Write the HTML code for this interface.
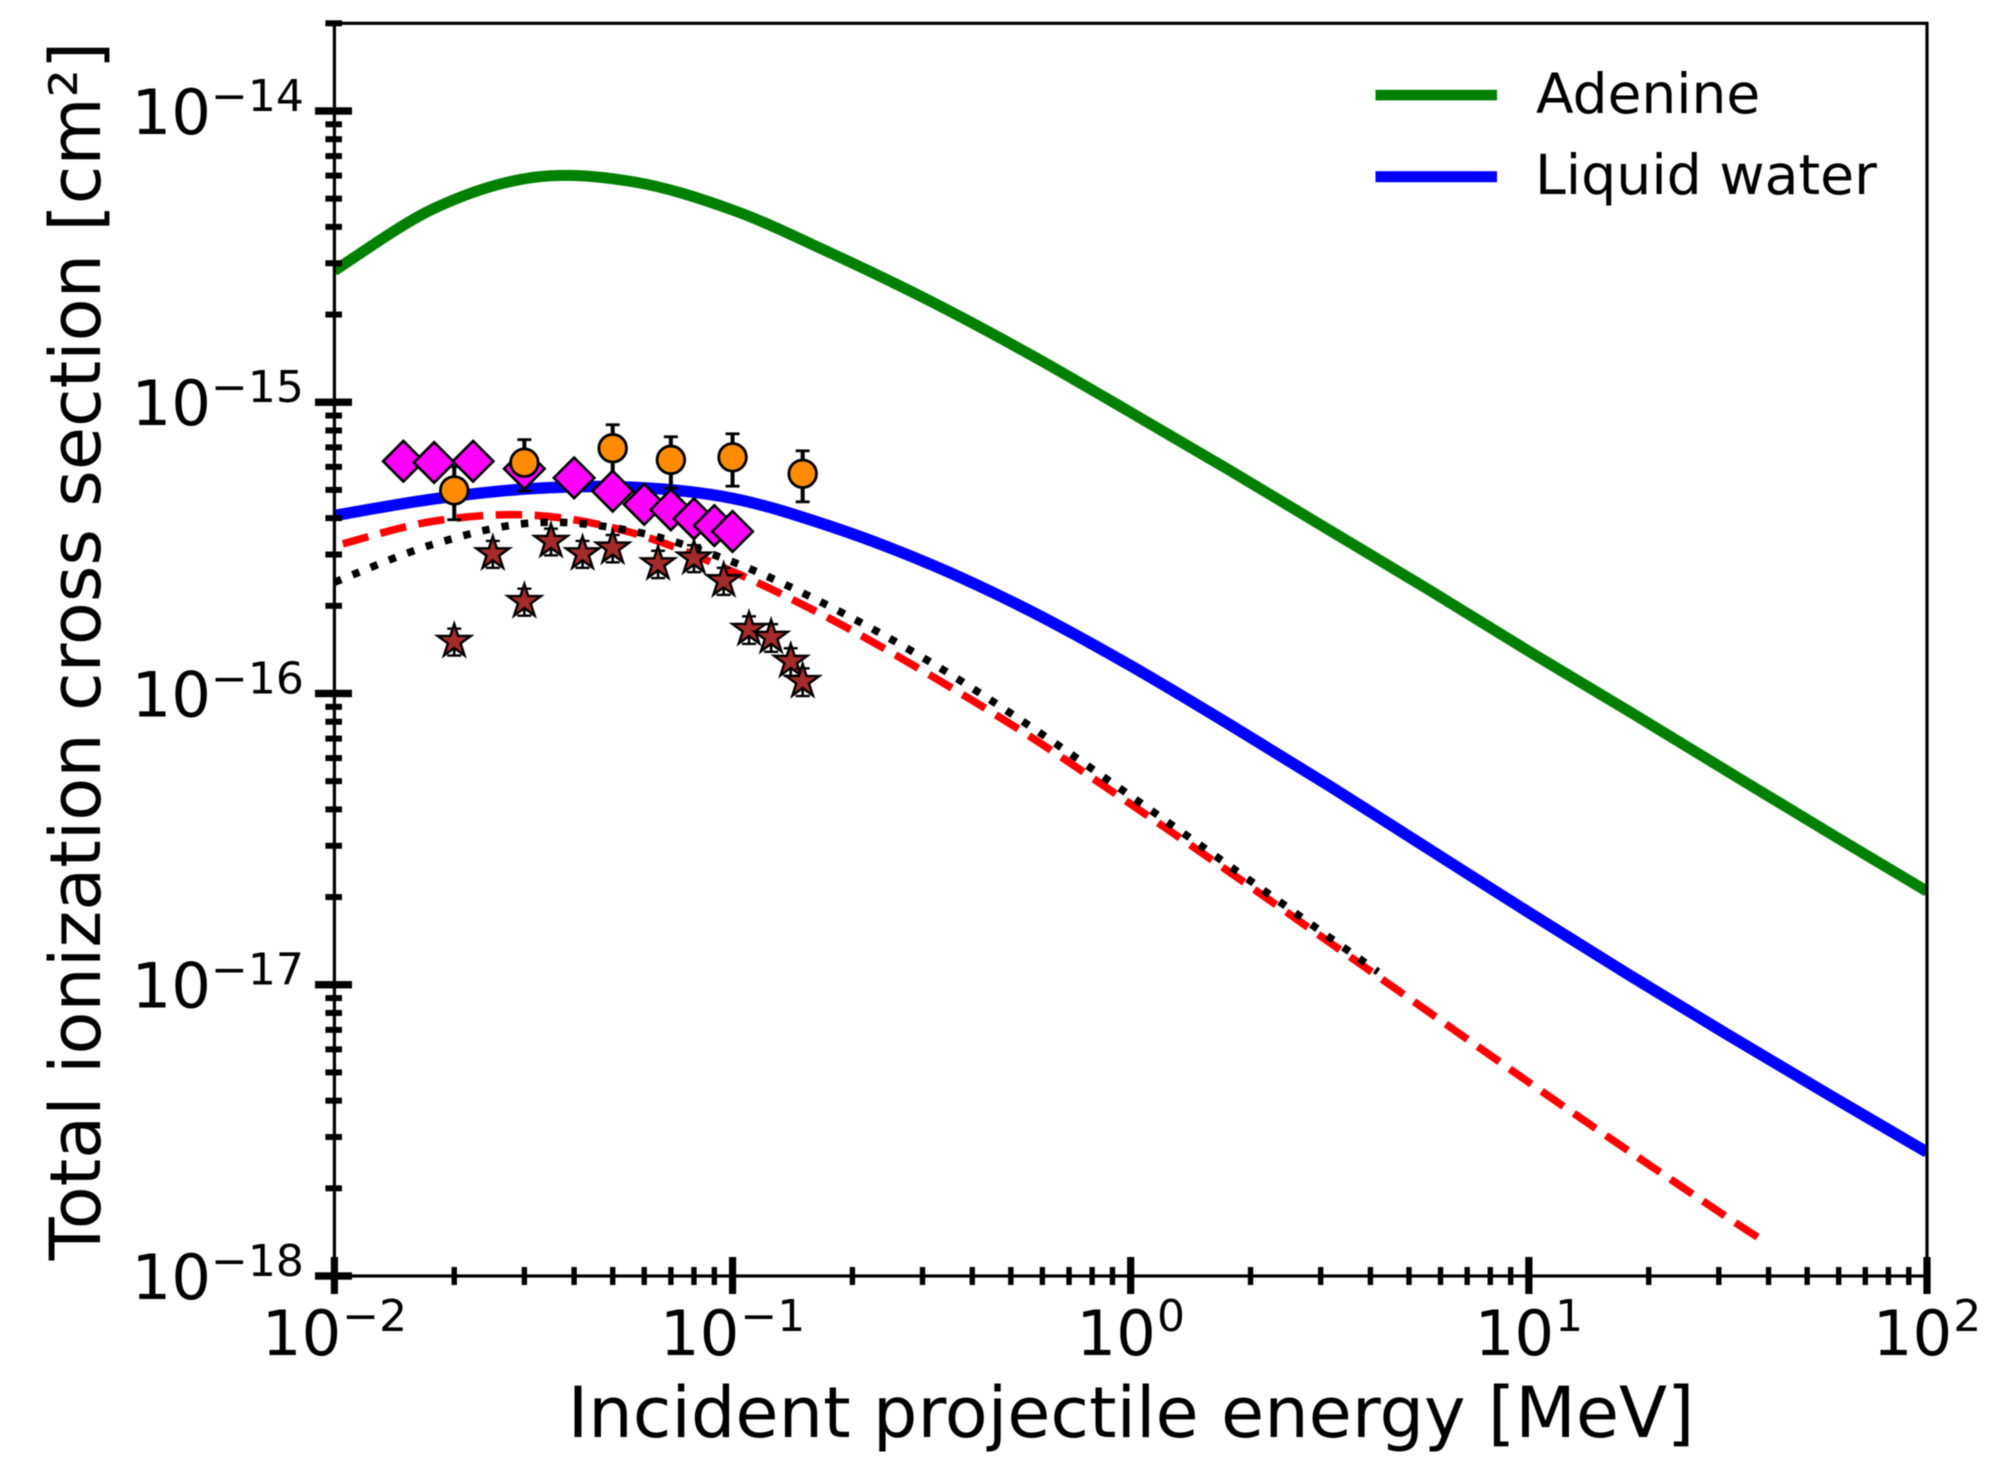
<!DOCTYPE html>
<html lang="en">
<head>
<meta charset="utf-8">
<title>Total ionization cross section</title>
<style>
html,body{margin:0;padding:0;background:#fff;width:2005px;height:1480px;overflow:hidden}
svg{display:block;filter:blur(0.4px)}
text{font-family:"DejaVu Sans","Liberation Sans",sans-serif;fill:#000}
</style>
</head>
<body>
<svg id="chart" xmlns="http://www.w3.org/2000/svg" width="2005" height="1480" viewBox="0 0 2005 1480">
  <defs><clipPath id="plot-clip"><rect x="334.4" y="23.3" width="1592.6" height="1252.7"/></clipPath></defs>
  <rect width="2005" height="1480" fill="#fff"/>
  <g id="curves" clip-path="url(#plot-clip)"></g>
  <g id="markers"></g>
  <g id="axes"></g>
  <text x="1131" y="1437" font-size="70.2" text-anchor="middle">Incident projectile energy [MeV]</text>
  <text transform="translate(100,651) rotate(-90)" font-size="70.2" text-anchor="middle">Total ionization cross section [cm²]</text>
  <g>
    <rect x="1375.5" y="89.8" width="121.5" height="10.6" fill="#008000"/>
    <text x="1536" y="113" font-size="55">Adenine</text>
    <rect x="1375.5" y="171.2" width="121.5" height="11" fill="#0000ff"/>
    <text x="1535" y="194" font-size="55.3">Liquid water</text>
  </g>
</svg>
<script>
// Axis domains
const xDomain = [0.01, 100];
const yDomain = [1e-18, 2e-14];
// Tick exponents (labels are 10^n)
const xTickExponents = [-2, -1, 0, 1, 2];
const yTickExponents = [-18, -17, -16, -15, -14];
const minorMultipliers = [2, 3, 4, 5, 6, 7, 8, 9];

// Adenine curve
const adenineE = [0.01, 0.01778, 0.03162, 0.05623, 0.1, 0.1778, 0.3162, 0.5623, 1, 1.778, 3.162, 5.623, 10, 17.78, 31.62, 56.23, 100];
const adenineS = [2.831e-15, 4.624e-15, 5.916e-15, 5.715e-15, 4.571e-15, 3.236e-15, 2.213e-15, 1.452e-15, 9.226e-16, 5.821e-16, 3.631e-16, 2.265e-16, 1.396e-16, 8.71e-17, 5.395e-17, 3.35e-17, 2.094e-17];

// Liquid water curve
const waterE = [0.01, 0.01778, 0.03162, 0.05623, 0.1, 0.1778, 0.3162, 0.5623, 1, 1.778, 3.162, 5.623, 10, 17.78, 31.62, 56.23, 100];
const waterS = [4.083e-16, 4.656e-16, 5.058e-16, 5.105e-16, 4.677e-16, 3.733e-16, 2.767e-16, 1.914e-16, 1.245e-16, 7.798e-17, 4.808e-17, 2.917e-17, 1.77e-17, 1.084e-17, 6.73e-18, 4.217e-18, 2.661e-18];

// Red dashed curve
const dashedE = [0.0105, 0.01778, 0.03162, 0.05623, 0.1, 0.1778, 0.3162, 0.5623, 1, 1.778, 3.162, 5.623, 10, 17.78, 31.62, 38.4];
const dashedS = [3.266e-16, 3.908e-16, 4.093e-16, 3.556e-16, 2.624e-16, 1.791e-16, 1.148e-16, 7.079e-17, 4.169e-17, 2.427e-17, 1.396e-17, 8.035e-18, 4.624e-18, 2.692e-18, 1.585e-18, 1.334e-18];

// Black dotted curve
const dottedE = [0.01, 0.01778, 0.03162, 0.05623, 0.1, 0.1778, 0.3162, 0.5623, 1, 1.778, 3.162, 4.18];
const dottedS = [2.41e-16, 3.258e-16, 3.855e-16, 3.606e-16, 2.831e-16, 1.972e-16, 1.274e-16, 7.674e-17, 4.446e-17, 2.547e-17, 1.452e-17, 1.107e-17];

// Diamond points
const diamondE = [0.0149, 0.0178, 0.0223, 0.03, 0.04, 0.05, 0.06, 0.07, 0.08, 0.09, 0.1];
const diamondS = [6.27e-16, 6.21e-16, 6.27e-16, 5.91e-16, 5.5e-16, 4.95e-16, 4.46e-16, 4.27e-16, 3.98e-16, 3.77e-16, 3.6e-16];

// Orange circle points with symmetric errors
const circleE = [0.02, 0.03, 0.05, 0.07, 0.1, 0.15];
const circleS = [4.98e-16, 6.2e-16, 6.95e-16, 6.34e-16, 6.47e-16, 5.68e-16];
const circleErr = [1.03e-16, 1.24e-16, 1.42e-16, 1.27e-16, 1.32e-16, 1.13e-16];

// Brown star points with symmetric errors
const starE = [0.02, 0.025, 0.03, 0.035, 0.042, 0.05, 0.065, 0.08, 0.095, 0.11, 0.125, 0.14, 0.15];
const starS = [1.51e-16, 3.02e-16, 2.07e-16, 3.33e-16, 3.02e-16, 3.16e-16, 2.79e-16, 2.92e-16, 2.44e-16, 1.66e-16, 1.56e-16, 1.29e-16, 1.1e-16];
const starErr = [1.6e-17, 3.2e-17, 2.2e-17, 3.5e-17, 3.2e-17, 3.4e-17, 3.0e-17, 3.1e-17, 2.6e-17, 1.8e-17, 1.7e-17, 1.4e-17, 1.2e-17];

const plotLeft = 334.4, plotRight = 1927, plotTop = 23.3, plotBottom = 1276;
const SVGNS = 'http://www.w3.org/2000/svg';

function xScale(v) {
  const a = Math.log10(xDomain[0]), b = Math.log10(xDomain[1]);
  return plotLeft + (Math.log10(v) - a) / (b - a) * (plotRight - plotLeft);
}
function yScale(v) {
  const a = Math.log10(yDomain[0]), b = Math.log10(yDomain[1]);
  return plotBottom - (Math.log10(v) - a) / (b - a) * (plotBottom - plotTop);
}
function make(tag, parent, attrs) {
  const el = document.createElementNS(SVGNS, tag);
  for (const k in attrs) el.setAttribute(k, attrs[k]);
  parent.appendChild(el);
  return el;
}
function smoothPath(xs, ys) {
  const p = xs.map((x, i) => [xScale(x), yScale(ys[i])]);
  let d = 'M' + p[0][0].toFixed(2) + ' ' + p[0][1].toFixed(2);
  for (let i = 0; i < p.length - 1; i++) {
    const p0 = p[Math.max(0, i - 1)], p1 = p[i], p2 = p[i + 1], p3 = p[Math.min(p.length - 1, i + 2)];
    const c1x = p1[0] + (p2[0] - p0[0]) / 6, c1y = p1[1] + (p2[1] - p0[1]) / 6;
    const c2x = p2[0] - (p3[0] - p1[0]) / 6, c2y = p2[1] - (p3[1] - p1[1]) / 6;
    d += 'C' + c1x.toFixed(2) + ' ' + c1y.toFixed(2) + ' ' + c2x.toFixed(2) + ' ' + c2y.toFixed(2) + ' ' + p2[0].toFixed(2) + ' ' + p2[1].toFixed(2);
  }
  return d;
}

const curves = document.getElementById('curves');
const markers = document.getElementById('markers');
const axes = document.getElementById('axes');

// Curves
const adenineLine = make('path', curves, {d: smoothPath(adenineE, adenineS), fill: 'none', stroke: '#008000', 'stroke-width': 11});


const waterLine = make('path', curves, {d: smoothPath(waterE, waterS), fill: 'none', stroke: '#0000ff', 'stroke-width': 11.5});


const dashedLine = make('path', curves, {d: smoothPath(dashedE, dashedS), fill: 'none', stroke: '#ff0000', 'stroke-width': 7.6, 'stroke-dasharray': '26.5 12.5'});


const dottedLine = make('path', curves, {d: smoothPath(dottedE, dottedS), fill: 'none', stroke: '#000000', 'stroke-width': 7.6, 'stroke-dasharray': '7.4 12.2'});



function errorBar(parent, xv, yv, err, lw, capHalf, capLw, name) {
  const x = xScale(xv), hi = yScale(yv + err), lo = yScale(yv - err);
  const g = make('g', parent, {stroke: '#000', fill: 'none'});
  
  
  make('line', g, {x1: x, x2: x, y1: hi, y2: lo, 'stroke-width': lw});
  make('line', g, {x1: x - capHalf, x2: x + capHalf, y1: hi, y2: hi, 'stroke-width': capLw});
  make('line', g, {x1: x - capHalf, x2: x + capHalf, y1: lo, y2: lo, 'stroke-width': capLw});
}

// Orange error bars sit beneath the diamonds
circleE.forEach((e, i) => errorBar(markers, e, circleS[i], circleErr[i], 4, 7, 2.8, 'circle-error-bar'));

// Diamonds
diamondE.forEach((e, i) => {
  const x = xScale(e), y = yScale(diamondS[i]), r = 20.3;
  const el = make('polygon', markers, {points: [x, y - r, x + r, y, x, y + r, x - r, y].join(' '), fill: '#ff00ff', stroke: '#000', 'stroke-width': 2.6});
  
  
});

// Stars
starE.forEach((e, i) => {
  errorBar(markers, e, starS[i], starErr[i], 2.6, 7, 2.4, 'star-error-bar');
  const x = xScale(e), y = yScale(starS[i]), R = 17.5, r = R * 0.382;
  const pts = [];
  for (let k = 0; k < 10; k++) {
    const a = -Math.PI / 2 + k * Math.PI / 5, rad = k % 2 ? r : R;
    pts.push((x + rad * Math.cos(a)).toFixed(2) + ',' + (y + rad * Math.sin(a)).toFixed(2));
  }
  const el = make('polygon', markers, {points: pts.join(' '), fill: '#a52a2a', stroke: '#000', 'stroke-width': 2.4, 'stroke-miterlimit': 10});
  
  
});

// Orange circles
circleE.forEach((e, i) => {
  const el = make('circle', markers, {cx: xScale(e), cy: yScale(circleS[i]), r: 13.8, fill: '#ff8c00', stroke: '#000', 'stroke-width': 2.8});
  
  
});

// Frame
const frame = make('rect', axes, {x: plotLeft, y: plotTop, width: plotRight - plotLeft, height: plotBottom - plotTop, fill: 'none', stroke: '#000', 'stroke-width': 3.2});



// X ticks
xTickExponents.forEach(n => {
  const x = xScale(Math.pow(10, n));
  const t = make('rect', axes, {x: x - 3.6, y: 1257, width: 7.2, height: 37, fill: '#000'});
  
  
  const label = make('text', axes, {x: x, y: 1355, 'font-size': 62.5, 'text-anchor': 'middle'});
  
  
  label.appendChild(document.createTextNode('10'));
  const sup = make('tspan', label, {dy: -24, dx: 1, 'font-size': 44});
  sup.textContent = String(n).replace('-', '\u2212');
  if (n < 2) minorMultipliers.forEach(m => {
    const mx = xScale(m * Math.pow(10, n));
    const mt = make('rect', axes, {x: mx - 2.7, y: 1267, width: 5.4, height: 18, fill: '#000'});
    
    
  });
});

// Y ticks
yTickExponents.forEach(n => {
  const y = yScale(Math.pow(10, n));
  const t = make('rect', axes, {x: 315, y: y - 3.7, width: 37, height: 7.4, fill: '#000'});
  
  
  const label = make('text', axes, {x: 131.5, y: y + 23, 'font-size': 62.5});
  
  
  label.appendChild(document.createTextNode('10'));
  const sup = make('tspan', label, {dy: -23, 'font-size': 44});
  sup.textContent = String(n).replace('-', '\u2212');
  minorMultipliers.forEach(m => {
    const v = m * Math.pow(10, n);
    if (v > yDomain[1] * 1.001) return;
    const my = yScale(v);
    const mt = make('rect', axes, {x: 325.4, y: my - 3, width: 16.6, height: 6, fill: '#000'});
    
    
  });
});
</script>
</body>
</html>
